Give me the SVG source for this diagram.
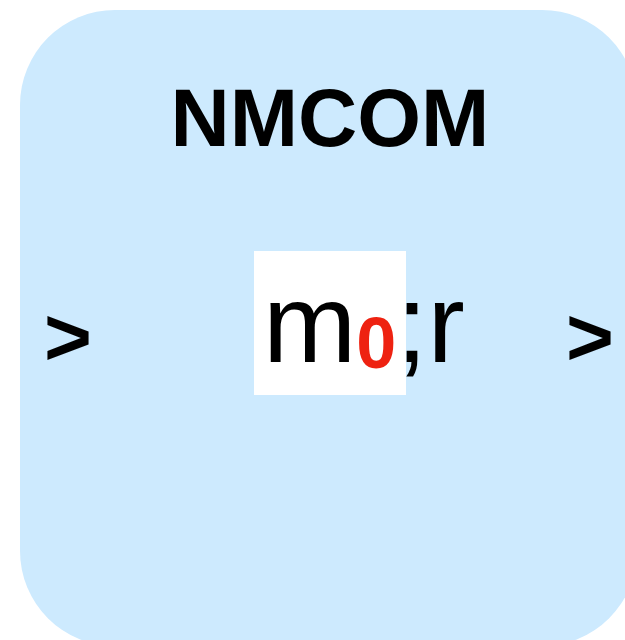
<svg xmlns="http://www.w3.org/2000/svg" width="625" height="640" viewBox="0 0 625 640">
  <style>
    .panel { fill: #cdeafe; }
    .title { font-family: "Liberation Sans", Arial, sans-serif; font-weight: bold; font-size: 82px; fill: #000; }
    .arrow { font-family: "Liberation Sans", Arial, sans-serif; font-weight: bold; font-size: 82px; fill: #000; }
    .expr { font-family: "Liberation Sans", Arial, sans-serif; font-size: 112px; fill: #000; }
    .sub { font-weight: bold; font-size: 72px; fill: #ee2211; }
  </style>
  <rect width="625" height="640" fill="#ffffff"/>
  <g id="nmcom">
    <rect class="panel" x="20" y="10" width="617" height="636" rx="95" ry="95"/>
    <text class="title" x="330" y="146" text-anchor="middle">NMCOM</text>
  </g>
  <g id="input-port">
    <text class="arrow" x="44" y="365">&gt;</text>
  </g>
  <g id="output-port">
    <text class="arrow" x="566" y="365">&gt;</text>
  </g>
  <g id="expression">
    <rect x="254" y="251" width="152" height="144" fill="#ffffff"/>
    <text class="expr" x="263" y="362">m<tspan class="sub" dy="6">0</tspan><tspan dy="-6">;r</tspan></text>
  </g>
</svg>
